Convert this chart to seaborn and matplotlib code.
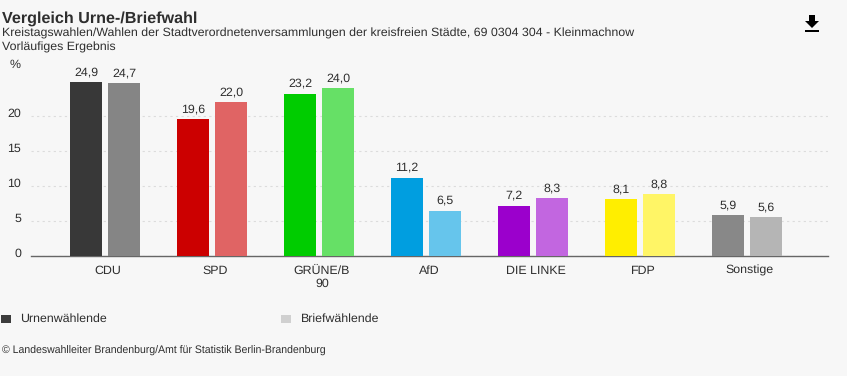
import matplotlib
matplotlib.use("Agg")
import matplotlib.pyplot as plt
from matplotlib.patches import Polygon, Rectangle
from matplotlib.transforms import ScaledTranslation
import pandas as pd
import seaborn as sns

parties = ["CDU", "SPD", "GRÜNE/B", "AfD", "DIE LINKE", "FDP", "Sonstige"]
tick_labels = ["CDU", "SPD", "GRÜNE/B\n90", "AfD", "DIE LINKE", "FDP", "Sonstige"]
urne = [24.9, 19.6, 23.2, 11.2, 7.2, 8.1, 5.9]
brief = [24.7, 22.0, 24.0, 6.5, 8.3, 8.8, 5.6]
urne_colors = ["#383838", "#cc0000", "#00cc00", "#009ee0", "#9b00cc", "#ffee00", "#888888"]
brief_colors = ["#858585", "#e06464", "#66e066", "#66c5ec", "#c266e0", "#fff566", "#b5b5b5"]
series_names = ["Urnenwählende", "Briefwählende"]
legend_colors = ["#3c3c3c", "#d0d0d0"]

W, H = 847, 376
BG = "#f7f7f7"
TXT = "#2e2e2e"
FS = 8.94
sns.set_theme(style="white", rc={"axes.facecolor": "none", "figure.facecolor": BG})
plt.rcParams["font.family"] = ["Liberation Sans", "DejaVu Sans"]
plt.rcParams["text.hinting"] = "no_hinting"
plt.rcParams["text.hinting_factor"] = 8

df = pd.DataFrame({
    "party": parties * 2,
    "value": urne + brief,
    "vote": [series_names[0]] * 7 + [series_names[1]] * 7,
})

fig = plt.figure(figsize=(W / 100, H / 100), dpi=100, facecolor=BG)
top_px, bottom_px, left_px, right_px = 60, 256, 31, 828
ax = fig.add_axes([left_px / W, 1 - bottom_px / H, (right_px - left_px) / W, (bottom_px - top_px) / H])
sns.barplot(data=df, x="party", y="value", hue="vote", order=parties, hue_order=series_names,
            width=0.71, gap=0.158, legend=False, ax=ax, errorbar=None, zorder=3)

for container, colors, vals in zip(ax.containers, (urne_colors, brief_colors), (urne, brief)):
    for bar, c in zip(container, colors):
        bar.set_facecolor(c)
        bar.set_edgecolor("none")
    ax.bar_label(container, labels=[f"{v:.1f}".replace(".", ",") for v in vals],
                 padding=3, fontsize=FS, color=TXT)

ax.set_xlim(-74 / 107, 723 / 107)
ax.set_ylim(0, (bottom_px - top_px) / 7.0)
ax.set_xlabel("")
ax.set_ylabel("")
ax.set_yticks([0, 5, 10, 15, 20])
ax.set_yticklabels(["0", "5", "10", "15", "20"], fontsize=FS, color=TXT)
ax.set_xticks(range(7))
ax.set_xticklabels(tick_labels, fontsize=FS, color=TXT, linespacing=1.25)
ax.tick_params(axis="both", length=0)
ax.tick_params(axis="x", pad=6.5)
ax.tick_params(axis="y", pad=7)
for lab in ax.get_yticklabels():
    lab.set_transform(lab.get_transform() + ScaledTranslation(0, 3 / 100, fig.dpi_scale_trans))
for lab in ax.get_xticklabels():
    lab.set_transform(lab.get_transform() + ScaledTranslation(3 / 100, 0, fig.dpi_scale_trans))

ax.yaxis.grid(True, color="#dcdcdc", linestyle=(0, (2, 3)), linewidth=0.8, zorder=0)
ax.set_axisbelow(True)
for s in ("top", "left", "right"):
    ax.spines[s].set_visible(False)
ax.spines["bottom"].set_color("#666666")
ax.spines["bottom"].set_linewidth(1.0)


def ftext(x, y, s, **kw):
    kw.setdefault("color", TXT)
    kw.setdefault("va", "center")
    fig.text(x / W, 1 - y / H, s, **kw)


ftext(2, 18.5, "Vergleich Urne-/Briefwahl", fontsize=11.6, fontweight="bold")
ftext(2, 33, "Kreistagswahlen/Wahlen der Stadtverordnetenversammlungen der kreisfreien Städte, 69 0304 304 - Kleinmachnow", fontsize=FS)
ftext(2, 47, "Vorläufiges Ergebnis", fontsize=FS)
ftext(15.5, 65, "%", fontsize=FS, ha="center")
ftext(20.5, 318.5, series_names[0], fontsize=FS)
ftext(300.5, 318.5, series_names[1], fontsize=FS)
ftext(2, 351, "© Landeswahlleiter Brandenburg/Amt für Statistik Berlin-Brandenburg", fontsize=7.57)

for x, c in zip((1, 281), legend_colors):
    fig.add_artist(Rectangle((x / W, 1 - 323 / H), 10 / W, 8 / H, facecolor=c, edgecolor="none", transform=fig.transFigure))

# download icon
icon = [(809, 15), (815, 15), (815, 21), (819, 21), (812, 28), (805, 21), (809, 21)]
fig.add_artist(Polygon([(x / W, 1 - y / H) for x, y in icon], closed=True, facecolor="black", edgecolor="none", transform=fig.transFigure))
fig.add_artist(Rectangle((805 / W, 1 - 32 / H), 14 / W, 2 / H, facecolor="black", edgecolor="none", transform=fig.transFigure))

fig.savefig("out.png", dpi=100, facecolor=BG)
